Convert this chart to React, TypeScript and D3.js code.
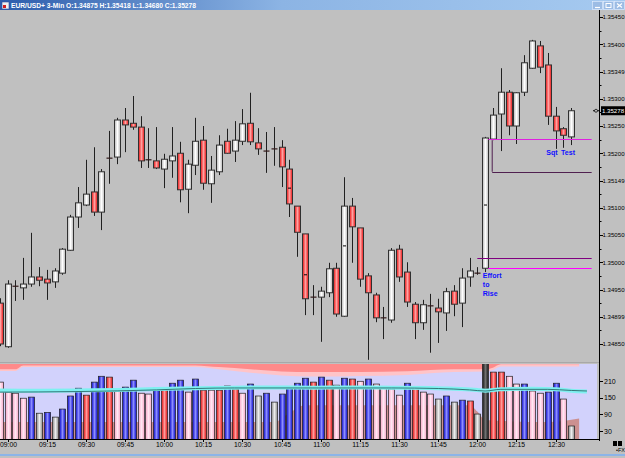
import React from "react";
import * as d3 from "d3";

const W = 625;
const H = 458;

// ---- DATA (EUR/USD 3-min bars, first bar 08:57) ----
const opens = [1.34925,1.34845,1.34956,1.34953,1.34960,1.34973,1.34969,1.34964,1.34980,1.35022,1.35083,1.35105,1.35129,1.35092,1.35191,1.35193,1.35261,1.35255,1.35248,1.35188,1.35186,1.35171,1.35186,1.35200,1.35134,1.35178,1.35224,1.35144,1.35166,1.35222,1.35204,1.35222,1.35255,1.35219,1.35204,1.35208,1.35211,1.35171,1.35103,1.35052,1.34936,1.34936,1.34944,1.34989,1.34901,1.35103,1.35063,1.34975,1.34940,1.34898,1.34894,1.35024,1.34982,1.34923,1.34889,1.34920,1.34916,1.34907,1.34947,1.34925,1.34973,1.34980,1.34989,1.35226,1.35272,1.35312,1.35250,1.35312,1.35356,1.35397,1.35362,1.35268,1.35245,1.35230];
const highs = [1.34934,1.34967,1.34967,1.35008,1.35054,1.34991,1.34986,1.34989,1.35026,1.35087,1.35138,1.35188,1.35211,1.35171,1.35241,1.35265,1.35283,1.35305,1.35268,1.35246,1.35248,1.35199,1.35248,1.35221,1.35188,1.35265,1.35250,1.35195,1.35233,1.35245,1.35259,1.35281,1.35311,1.35246,1.35239,1.35248,1.35224,1.35188,1.35103,1.35052,1.34958,1.34955,1.34999,1.34999,1.35156,1.35118,1.35063,1.34980,1.34944,1.34918,1.35026,1.35032,1.35000,1.34927,1.34931,1.34942,1.34933,1.34953,1.34958,1.34989,1.35008,1.34991,1.35230,1.35283,1.35356,1.35316,1.35312,1.35380,1.35408,1.35406,1.35384,1.35285,1.35248,1.35283];
const lows = [1.34846,1.34843,1.34929,1.34931,1.34955,1.34956,1.34931,1.34953,1.34977,1.35021,1.35063,1.35103,1.35085,1.35059,1.35144,1.35180,1.35202,1.35243,1.35173,1.35173,1.35171,1.35136,1.35155,1.35110,1.35090,1.35160,1.35133,1.35109,1.35160,1.35199,1.35184,1.35215,1.35215,1.35197,1.35164,1.35177,1.35138,1.35083,1.35010,1.34903,1.34903,1.34854,1.34936,1.34900,1.34900,1.34999,1.34955,1.34821,1.34890,1.34859,1.34889,1.34964,1.34918,1.34859,1.34876,1.34834,1.34852,1.34874,1.34901,1.34881,1.34955,1.34977,1.34982,1.35224,1.35204,1.35233,1.35217,1.35305,1.35355,1.35347,1.35252,1.35208,1.35210,1.35215];
const closes = [1.34850,1.34960,1.34956,1.34960,1.34973,1.34967,1.34962,1.34984,1.35024,1.35083,1.35109,1.35125,1.35092,1.35166,1.35191,1.35261,1.35252,1.35248,1.35186,1.35188,1.35173,1.35189,1.35195,1.35133,1.35180,1.35222,1.35145,1.35169,1.35215,1.35200,1.35224,1.35254,1.35221,1.35208,1.35204,1.35208,1.35175,1.35107,1.35055,1.34933,1.34936,1.34947,1.34988,1.34905,1.35103,1.35065,1.34969,1.34944,1.34898,1.34898,1.35022,1.34973,1.34927,1.34889,1.34922,1.34920,1.34909,1.34946,1.34923,1.34971,1.34984,1.34980,1.35228,1.35270,1.35312,1.35250,1.35311,1.35366,1.35406,1.35358,1.35268,1.35241,1.35233,1.35278];
const volumes = [206,170,166,148,152,94,97,80,109,156,184,159,206,227,224,181,188,213,166,163,184,184,202,213,170,217,177,177,177,192,181,166,199,156,166,134,163,184,202,220,206,224,213,195,220,217,209,217,199,188,181,159,202,184,170,163,145,156,134,141,138,91,300,242,242,227,199,199,174,166,170,202,145,48];
// p = pink, b = blue, r = red, g = gray, k = black
const volumeKinds = "ppppbgbgbbbrbbrpbbppbrbbpbrprbrpbgbgbbbbrbrpbrpbppppbrppgbgbrgkrrppbppbbpg";
const bodyMarks = [[37, 1.35136], [39, 1.34977], [44, 1.35030], [62, 1.35105]];

const priceTicks = [1.3545, 1.354, 1.3535, 1.353, 1.3525, 1.352, 1.3515, 1.351, 1.3505, 1.35, 1.3495, 1.349, 1.3485];
const priceTickLabels = ["1.35450","1.35400","1.35349","1.35300","1.35250","1.35200","1.35149","1.35100","1.35050","1.35000","1.34950","1.34899","1.34850"];
const volumeTicks = [210, 150, 90, 30];
const timeTickLabels = ["09:00","09:15","09:30","09:45","10:00","10:15","10:30","10:45","11:00","11:15","11:30","11:45","12:00","12:15","12:30"];
const firstBarMinutes = 8 * 60 + 57;

const volTopRed = [[0,252],[2,252],[3,266],[25,266],[28,260],[32,252],[36,244],[40,242],[46,242],[52,245],[58,252],[62,252],[63,258],[64,270],[74,270]];
const volTopPink = [[0,246],[2,246],[3,260],[25,260],[28,252],[32,240],[36,230],[40,226],[46,228],[52,232],[58,242],[62,244],[63,250],[64,262],[74,262]];
const volBottom = [[0,62],[35,62],[37,95],[39,123],[60,123],[61,100],[62,70],[70,62],[74,75]];
const volMA = [[0,176],[5,175],[10,176],[15,178],[20,181],[25,184],[30,186],[35,187],[40,186],[45,187],[50,186],[55,185],[58,182],[61,178],[62,175],[64,180],[68,182],[71,180],[73,175],[75,172]];
const volMA2 = [[0,170],[10,172],[20,178],[25,183],[30,185],[40,185],[50,185],[56,183],[60,178],[62,174],[64,180],[70,180],[73,176],[75,174]];

const levelLines = [
  { price: 1.35226, from: 62.4, to: 75.6, color: "#e020e0" },
  { price: 1.35166, from: 62.9, to: 75.6, color: "#502050" },
  { price: 1.35008, from: 61.0, to: 75.6, color: "#800080" },
  { price: 1.34989, from: 62.4, to: 75.6, color: "#ff00ff" },
];

const FONT = "'Liberation Sans', Arial, sans-serif";

export default function App() {
  const x = d3.scaleLinear().domain([0, 73]).range([-0.3, 571.3]);
  const y = d3.scaleLinear().domain([1.3485, 1.3545]).range([344, 17]);
  const yv = d3.scaleLinear().domain([30, 210]).range([431, 381]);
  const volBase = yv(0);

  const areaTop = (lower: number[][]) =>
    d3.area<number[]>().x(d => x(d[0])).y0(d => yv(d[1])).y1(() => 364).curve(d3.curveMonotoneX)(lower) || "";

  const pinkArea = areaTop(volTopPink);
  const redArea = areaTop(volTopRed);
  const bottomArea = d3.area<number[]>().x(d => x(d[0])).y0(() => volBase).y1(d => yv(d[1])).curve(d3.curveMonotoneX)(volBottom) || "";
  const maLine = d3.line<number[]>().x(d => x(d[0])).y(d => yv(d[1])).curve(d3.curveMonotoneX);

  const left = (i: number) => Math.round(x(i) - 3) + 0.5;

  const grad: Record<string, [string, string]> = {
    p: ["#f8a8c8", "#ffe6f2"],
    b: ["#0808c8", "#8c8cff"],
    r: ["#e01010", "#ff9a9a"],
    g: ["#8c8c8c", "#ececec"],
    k: ["#181818", "#707070"],
    cw: ["#b8b8b8", "#ffffff"],
    cr: ["#e81010", "#ffa0a0"],
  };

  const minorTicks = d3.range(0, 26).map(k => 1.3485 + k * 0.00025).filter(v => v <= 1.35455);

  return (
    <svg width={W} height={H} style={{ position: "absolute", left: 0, top: 0, fontFamily: FONT }}>
      <defs>
        {Object.entries(grad).map(([k, [e, c]]) => (
          <linearGradient key={k} id={"g_" + k} x1="0" x2="1" y1="0" y2="0">
            <stop offset="0" stopColor={e} />
            <stop offset="0.5" stopColor={c} />
            <stop offset="1" stopColor={e} />
          </linearGradient>
        ))}
        <linearGradient id="title" x1="0" x2="1" y1="0" y2="0">
          <stop offset="0" stopColor="#2c5cac" />
          <stop offset="0.45" stopColor="#8cb4e4" />
          <stop offset="1" stopColor="#a6caf0" />
        </linearGradient>
        <clipPath id="volclip"><rect x={0} y={364} width={597} height={volBase - 364 + 1} /></clipPath>
        <clipPath id="mainclip"><rect x={0} y={10} width={599} height={352} /></clipPath>
      </defs>

      {/* backgrounds */}
      <rect x={0} y={0} width={W} height={H} fill="#c0c0c0" />
      <rect x={0} y={0} width={W} height={10} fill="url(#title)" />
      <rect x={2} y={2} width={7} height={7} fill="#f0f0f0" stroke="#3050a0" strokeWidth={0.6} />
      <rect x={3} y={5} width={3} height={3} fill="#d02020" />
      <text x={11} y={8.2} fontSize={7.2} fill="#ffffff" fontWeight="bold" textLength={185} lengthAdjust="spacingAndGlyphs">EUR/USD+ 3-Min O:1.34875 H:1.35418 L:1.34680 C:1.35278</text>
      {[592, 603, 614].map((bx, k) => (
        <g key={bx}>
          <rect x={bx + 0.5} y={1.5} width={10} height={8} fill="#9cbce4" stroke="#e8f0ff" strokeWidth={0.6} />
          {k === 0 && <line x1={bx + 3} x2={bx + 8} y1={7.5} y2={7.5} stroke="#fff" strokeWidth={1.2} />}
          {k === 1 && <rect x={bx + 3} y={3.5} width={5} height={4} fill="none" stroke="#fff" strokeWidth={1} />}
          {k === 2 && <path d={`M${bx + 3},3.5 L${bx + 8},7.5 M${bx + 8},3.5 L${bx + 3},7.5`} stroke="#fff" strokeWidth={1.2} />}
        </g>
      ))}

      {/* volume panel */}
      <g clipPath="url(#volclip)">
        <rect x={0} y={364} width={597} height={volBase - 364} fill="#d2d2fc" />
        <path d={pinkArea} fill="#ffc4c8" />
        <path d={redArea} fill="#ff8a8a" />
        <path d={bottomArea} fill="#cc9090" />
        {volumes.map((v, i) => (
          <rect key={i} x={left(i)} y={Math.max(yv(v), 363)} width={6} height={volBase - Math.max(yv(v), 363)}
            fill={`url(#g_${volumeKinds[i]})`} stroke="#202020" strokeWidth={0.7} />
        ))}
        <path d={maLine(volMA) || ""} fill="none" stroke="#7ff0f0" strokeWidth={4} />
        <path d={maLine(volMA2) || ""} fill="none" stroke="#2a6a6a" strokeWidth={0.9} />
      </g>
      <line x1={0} x2={599} y1={439.5} y2={439.5} stroke="#000" strokeWidth={1} />
      <line x1={0} x2={599} y1={362.5} y2={362.5} stroke="#a8a8a8" strokeWidth={1} />

      {/* candles */}
      <g clipPath="url(#mainclip)">
        {opens.map((o, i) => {
          const c = closes[i];
          const lx = left(i);
          const cx = lx + 3;
          const top = y(Math.max(o, c));
          const bot = y(Math.min(o, c));
          const doji = Math.abs(o - c) < 0.000005;
          const up = c > o;
          return (
            <g key={i}>
              <line x1={cx} x2={cx} y1={y(highs[i])} y2={y(lows[i])} stroke="#202020" strokeWidth={1} />
              {doji ? (
                <line x1={lx} x2={lx + 6} y1={top} y2={top} stroke="#301818" strokeWidth={1.2} />
              ) : (
                <rect x={lx} y={top} width={6} height={Math.max(bot - top, 1)} fill={up ? "url(#g_cw)" : "url(#g_cr)"} stroke="#303030" strokeWidth={1} />
              )}
            </g>
          );
        })}
        {bodyMarks.map(([i, p]) => (
          <line key={i} x1={left(i) + 1.5} x2={left(i) + 4.5} y1={y(p)} y2={y(p)} stroke="#000" strokeWidth={1} />
        ))}
        {levelLines.map((l, k) => (
          <line key={k} x1={x(l.from)} x2={x(l.to)} y1={Math.round(y(l.price)) + 0.5} y2={Math.round(y(l.price)) + 0.5} stroke={l.color} strokeWidth={1} />
        ))}
        <line x1={x(62.9)} x2={x(62.9)} y1={y(1.35224)} y2={y(1.35166)} stroke="#502050" strokeWidth={1} />
      </g>

      {/* annotations */}
      <g fill="#1010ff" fontSize={7} fontWeight="bold">
        <text x={x(69.8)} y={y(1.35197)}>Sqt</text>
        <text x={x(71.7)} y={y(1.35197)}>Test</text>
        <text x={x(61.7)} y={y(1.34971)}>Effort</text>
        <text x={x(61.7)} y={y(1.34955)}>to</text>
        <text x={x(61.7)} y={y(1.34938)}>Rise</text>
      </g>

      {/* price axis */}
      <line x1={599.5} x2={599.5} y1={10} y2={441} stroke="#000" strokeWidth={1} />
      {minorTicks.map((t, k) => (
        <line key={k} x1={599.5} x2={601.5} y1={Math.round(y(t)) + 0.5} y2={Math.round(y(t)) + 0.5} stroke="#000" strokeWidth={1} />
      ))}
      {priceTicks.map((t, k) => (
        <g key={k}>
          <line x1={599.5} x2={603} y1={Math.round(y(t)) + 0.5} y2={Math.round(y(t)) + 0.5} stroke="#000" />
          <text x={602.5} y={y(t) + 2.3} fontSize={6.1} fill="#000">{priceTickLabels[k]}</text>
        </g>
      ))}
      <rect x={601} y={y(closes[73]) - 4.5} width={24} height={9} fill="#000" />
      <text x={602} y={y(closes[73]) + 2.3} fontSize={6.1} fill="#fff">{closes[73].toFixed(5)}</text>
      <line x1={593} x2={599} y1={y(closes[73])} y2={y(closes[73])} stroke="#000" />
      <circle cx={596} cy={y(closes[73])} r={1.5} fill="#c0c0c0" stroke="#000" strokeWidth={0.7} />

      {/* volume axis */}
      {volumeTicks.map((t, k) => (
        <g key={k}>
          <line x1={599.5} x2={603} y1={Math.round(yv(t)) + 0.5} y2={Math.round(yv(t)) + 0.5} stroke="#000" />
          <text x={604} y={yv(t) + 2.5} fontSize={7} fill="#000">{t}</text>
        </g>
      ))}

      {/* time axis */}
      {timeTickLabels.map((lab, k) => {
        const [hh, mm] = lab.split(":").map(Number);
        const idx = (hh * 60 + mm - firstBarMinutes) / 3;
        const tx = left(idx) + 3;
        return (
          <g key={k}>
            <line x1={tx} x2={tx} y1={439.5} y2={442} stroke="#000" />
            <text x={tx} y={447} fontSize={6.8} textAnchor="middle" fill="#000">{lab}</text>
          </g>
        );
      })}
      <rect x={613} y={441} width={4} height={5} fill="#000" />
      <rect x={618} y={441} width={4} height={5} fill="#000" />
      <text x={616} y={452} fontSize={5.5} fill="#000">•FX</text>
      <rect x={0} y={454} width={W} height={2} fill="#8cb4e8" />
    </svg>
  );
}
